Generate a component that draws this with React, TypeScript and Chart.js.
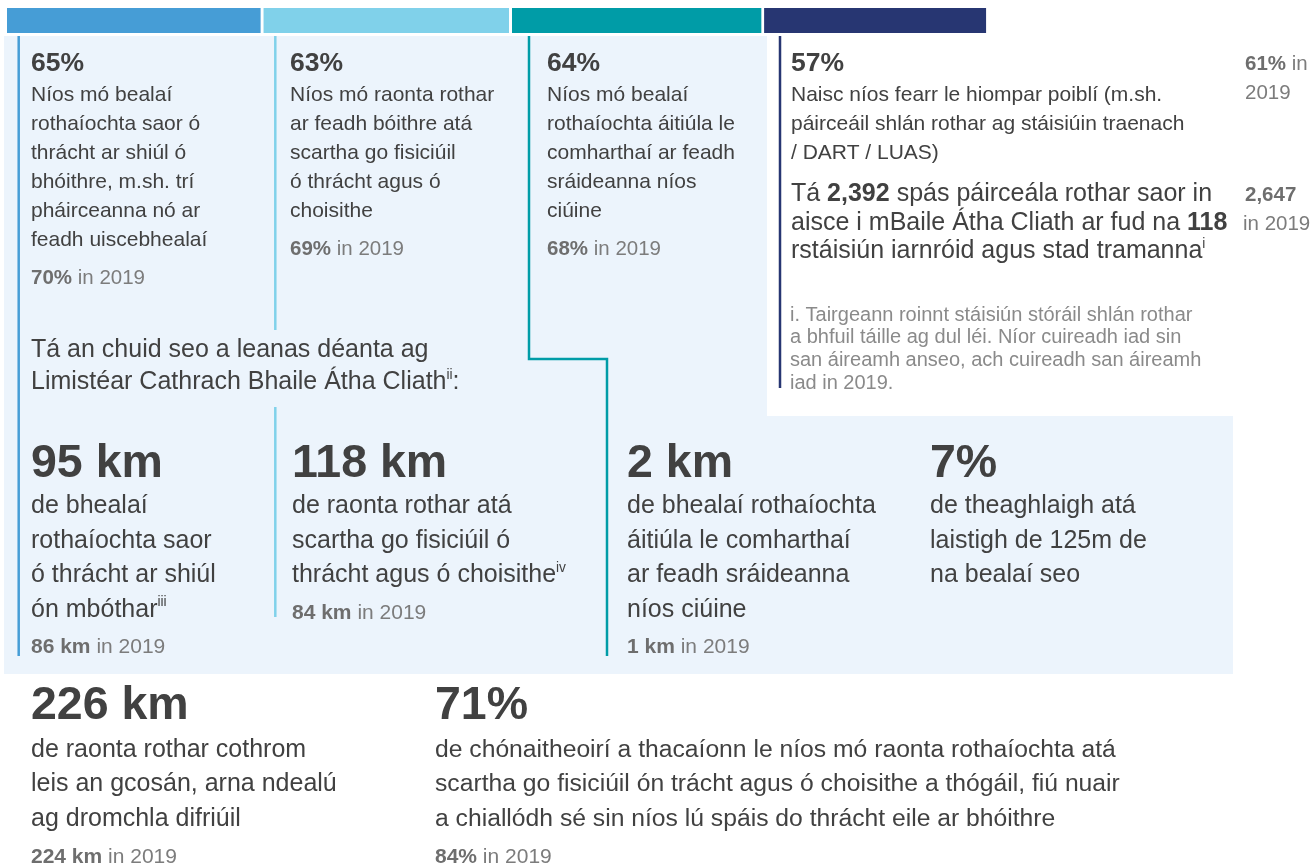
import React, { useEffect, useRef } from 'react';
import { Chart, registerables } from 'chart.js';

Chart.register(...registerables);

// ---------- data ----------
const priorities = [
  'Bealaí saor ó thrácht',
  'Raonta rothar scartha',
  'Bealaí áitiúla ciúine',
  'Naisc le hiompar poiblí',
];
const support2021 = [65, 63, 64, 57];
const support2019 = [70, 69, 68, 61];

const priorityText = [
  ['Níos mó bealaí', 'rothaíochta saor ó', 'thrácht ar shiúl ó', 'bhóithre, m.sh. trí', 'pháirceanna nó ar', 'feadh uiscebhealaí'],
  ['Níos mó raonta rothar', 'ar feadh bóithre atá', 'scartha go fisiciúil', 'ó thrácht agus ó', 'choisithe'],
  ['Níos mó bealaí', 'rothaíochta áitiúla le', 'comharthaí ar feadh', 'sráideanna níos', 'ciúine'],
  ['Naisc níos fearr le hiompar poiblí (m.sh.', 'páirceáil shlán rothar ag stáisiúin traenach', '/ DART / LUAS)'],
];

const parkingSpaces = [2392, 2647]; // 2021, 2019
const stations = 118;
const footnoteLines = [
  'i. Tairgeann roinnt stáisiún stóráil shlán rothar',
  'a bhfuil táille ag dul léi. Níor cuireadh iad sin',
  'san áireamh anseo, ach cuireadh san áireamh',
  'iad in 2019.',
];

const cityIntro = ['Tá an chuid seo a leanas déanta ag', 'Limistéar Cathrach Bhaile Átha Cliath'];

const infraKm2021 = [95, 118, 2];
const infraKm2019 = [86, 84, 1];
const infraText = [
  ['de bhealaí', 'rothaíochta saor', 'ó thrácht ar shiúl', 'ón mbóthar'],
  ['de raonta rothar atá', 'scartha go fisiciúil ó', 'thrácht agus ó choisithe'],
  ['de bhealaí rothaíochta', 'áitiúla le comharthaí', 'ar feadh sráideanna', 'níos ciúine'],
];
const infraSup = ['iii', 'iv', ''];
const householdsPct = 7;
const householdsText = ['de theaghlaigh atá', 'laistigh de 125m de', 'na bealaí seo'];

const paintedKm = [226, 224]; // 2021, 2019
const paintedText = ['de raonta rothar cothrom', 'leis an gcosán, arna ndealú', 'ag dromchla difriúil'];
const residentsPct = [71, 84]; // 2021, 2019
const residentsText = [
  'de chónaitheoirí a thacaíonn le níos mó raonta rothaíochta atá',
  'scartha go fisiciúil ón trácht agus ó choisithe a thógáil, fiú nuair',
  'a chiallódh sé sin níos lú spáis do thrácht eile ar bhóithre',
];

// ---------- styles ----------
const FONT = '"Liberation Sans", Arial, Helvetica, sans-serif';
const DARK = '#414141';
const GREY = '#7c7c7c';
const GREY_BOLD = '#6e6e6e';
const FOOT = '#8a8a8a';
const PANEL = '#ecf4fc';
const priorityColors = ['#469dd6', '#80d1ea', '#009ca7', '#273672'];

type Run = { t: string; b?: boolean; c?: string; sup?: boolean };

function drawRuns(ctx: CanvasRenderingContext2D, x: number, y: number, runs: Run[], size: number, color: string) {
  let cx = x;
  for (const r of runs) {
    const s = r.sup ? size * 0.55 : size;
    ctx.font = `${r.b ? 'bold ' : ''}${s}px ${FONT}`;
    ctx.fillStyle = r.c || color;
    ctx.fillText(r.t, cx, r.sup ? y - size * 0.42 : y);
    cx += ctx.measureText(r.t).width;
  }
}

function drawLines(ctx: CanvasRenderingContext2D, x: number, y0: number, lh: number, lines: (string | Run[])[], size: number, color: string) {
  lines.forEach((l, i) => {
    const runs = typeof l === 'string' ? [{ t: l }] : l;
    drawRuns(ctx, x, y0 + i * lh, runs, size, color);
  });
}

const fmt = (n: number) => n.toLocaleString('en-US');

const infographicPlugin = {
  id: 'infographic',
  beforeDraw(chart: any) {
    const ctx: CanvasRenderingContext2D = chart.ctx;
    ctx.save();
    ctx.fillStyle = PANEL;
    ctx.fillRect(4, 36, 763, 638);
    ctx.fillRect(767, 416, 466, 258);

    ctx.lineWidth = 2.5;
    ctx.lineJoin = 'miter';
    ctx.lineCap = 'butt';
    const seg = (color: string, pts: number[][]) => {
      ctx.strokeStyle = color;
      ctx.beginPath();
      pts.forEach((p, i) => (i ? ctx.lineTo(p[0], p[1]) : ctx.moveTo(p[0], p[1])));
      ctx.stroke();
    };
    seg(priorityColors[0], [[18.7, 36], [18.7, 656]]);
    seg(priorityColors[1], [[275.3, 36], [275.3, 330]]);
    seg(priorityColors[1], [[275.3, 407], [275.3, 617]]);
    seg(priorityColors[2], [[529, 36], [529, 359], [607, 359], [607, 656]]);
    seg(priorityColors[3], [[780, 36], [780, 388]]);
    ctx.restore();
  },
  afterDraw(chart: any) {
    const ctx: CanvasRenderingContext2D = chart.ctx;
    ctx.save();
    ctx.textBaseline = 'alphabetic';
    ctx.textAlign = 'left';

    // top priorities
    const topX = [31, 290, 547, 791];
    const y2019 = [284, 255, 255];
    support2021.forEach((v, i) => {
      drawRuns(ctx, topX[i], 71, [{ t: `${v}%`, b: true }], 26.5, DARK);
      drawLines(ctx, topX[i], 100.5, 29.1, priorityText[i], 21, DARK);
      if (i < 3) {
        drawRuns(ctx, topX[i], y2019[i], [{ t: `${support2019[i]}%`, b: true, c: GREY_BOLD }, { t: ' in 2019' }], 20.5, GREY);
      }
    });
    // right column 2019 for public transport
    drawRuns(ctx, 1245, 70, [{ t: `${support2019[3]}%`, b: true, c: GREY_BOLD }, { t: ' in' }], 20.5, GREY);
    drawRuns(ctx, 1245, 99, [{ t: '2019' }], 20.5, GREY);

    // parking
    drawLines(ctx, 791, 201, 28.5, [
      [{ t: 'Tá ' }, { t: fmt(parkingSpaces[0]), b: true }, { t: ' spás páirceála rothar saor in' }],
      [{ t: 'aisce i mBaile Átha Cliath ar fud na ' }, { t: String(stations), b: true }],
      [{ t: 'rstáisiún iarnróid agus stad tramanna' }, { t: 'i', sup: true }],
    ], 25, DARK);
    drawRuns(ctx, 1245, 201, [{ t: fmt(parkingSpaces[1]), b: true, c: GREY_BOLD }], 20.5, GREY);
    drawRuns(ctx, 1243, 230, [{ t: 'in 2019' }], 20.5, GREY);
    drawLines(ctx, 790, 320.7, 22.6, footnoteLines, 20, FOOT);

    // city intro
    drawLines(ctx, 31, 357, 32, [
      cityIntro[0],
      [{ t: cityIntro[1] }, { t: 'ii', sup: true }, { t: ':' }],
    ], 25, DARK);

    // infrastructure
    const lowX = [31, 292, 627, 930];
    const low2019Y = [653, 619, 653];
    infraKm2021.forEach((v, i) => {
      drawRuns(ctx, lowX[i], 476.5, [{ t: `${v} km`, b: true }], 46.5, DARK);
      const lines: (string | Run[])[] = infraText[i].map((t, j) =>
        j === infraText[i].length - 1 && infraSup[i] ? [{ t }, { t: infraSup[i], sup: true }] : t
      );
      drawLines(ctx, lowX[i], 513, 34.5, lines, 25, DARK);
      drawRuns(ctx, lowX[i], low2019Y[i], [{ t: `${infraKm2019[i]} km`, b: true, c: GREY_BOLD }, { t: ' in 2019' }], 21, GREY);
    });
    drawRuns(ctx, lowX[3], 476.5, [{ t: `${householdsPct}%`, b: true }], 46.5, DARK);
    drawLines(ctx, lowX[3], 513, 34.5, householdsText, 25, DARK);

    // bottom row
    drawRuns(ctx, 31, 718.5, [{ t: `${paintedKm[0]} km`, b: true }], 46.5, DARK);
    drawLines(ctx, 31, 757, 34.3, paintedText, 25, DARK);
    drawRuns(ctx, 31, 863, [{ t: `${paintedKm[1]} km`, b: true, c: GREY_BOLD }, { t: ' in 2019' }], 21, GREY);

    drawRuns(ctx, 435, 718.5, [{ t: `${residentsPct[0]}%`, b: true }], 46.5, DARK);
    drawLines(ctx, 435, 757, 34.3, residentsText, 24.7, DARK);
    drawRuns(ctx, 435, 863, [{ t: `${residentsPct[1]}%`, b: true, c: GREY_BOLD }, { t: ' in 2019' }], 21, GREY);

    ctx.restore();
  },
};

export default function App() {
  const ref = useRef<HTMLCanvasElement>(null);
  useEffect(() => {
    if (!ref.current) return;
    const chart = new Chart(ref.current, {
      type: 'bar',
      data: {
        datasets: priorities.map((p, i) => ({
          label: p,
          data: [{ x: support2021[i], y: 20.5 }],
          backgroundColor: priorityColors[i],
          borderColor: '#ffffff',
          borderWidth: { top: 0, right: 3, bottom: 0, left: 0 },
          borderSkipped: false,
          barThickness: 25,
        })),
      },
      options: {
        indexAxis: 'y',
        animation: false,
        responsive: false,
        devicePixelRatio: 1,
        events: [],
        layout: { padding: { left: 7, right: 0, top: 0, bottom: 0 } },
        plugins: { legend: { display: false }, tooltip: { enabled: false } },
        scales: {
          x: { type: 'linear', min: 0, max: 332, stacked: true, display: false, offset: false, grace: 0 },
          y: { type: 'linear', min: 0, max: 866, reverse: true, stacked: true, display: false, offset: false, grace: 0 },
        },
      } as any,
      plugins: [infographicPlugin],
    });
    return () => chart.destroy();
  }, []);
  return (
    <div style={{ position: 'fixed', left: 0, top: 0, width: 1316, height: 866, background: '#fff' }}>
      <canvas ref={ref} width={1316} height={866} style={{ width: 1316, height: 866, display: 'block' }} />
    </div>
  );
}
